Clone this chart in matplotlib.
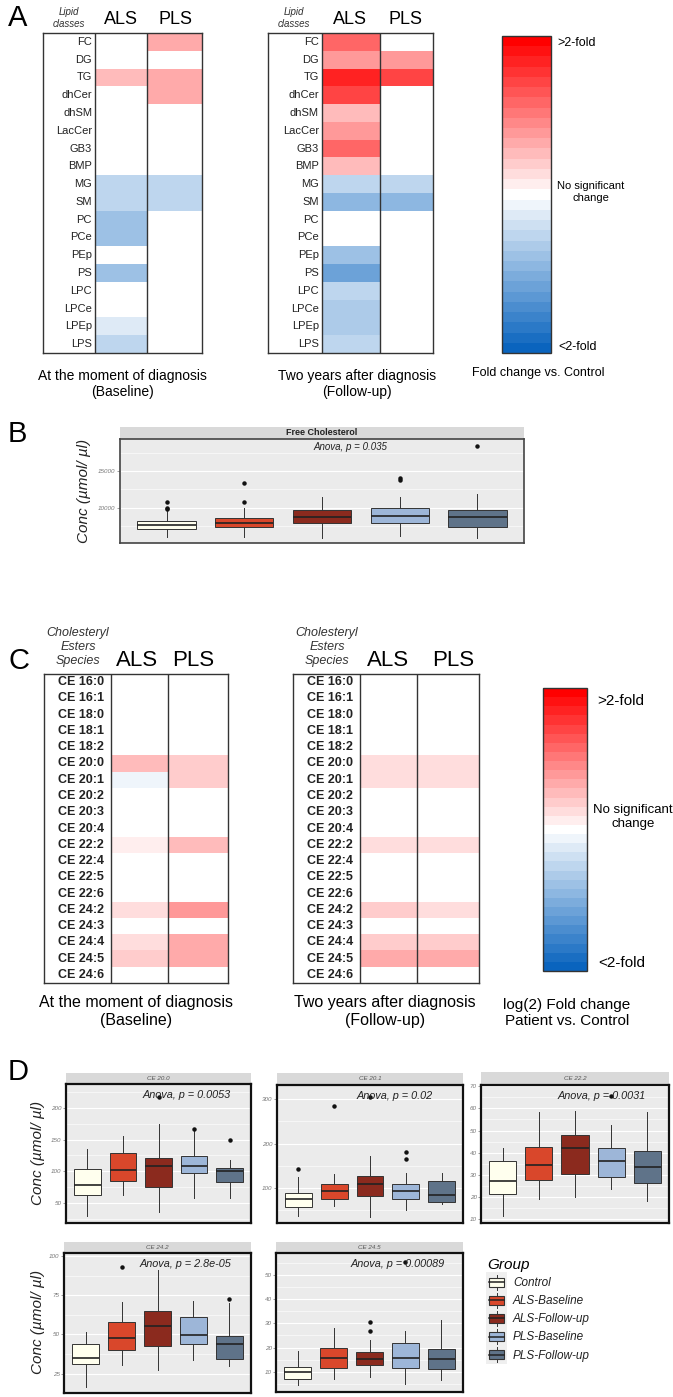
import numpy as np
import matplotlib
matplotlib.use("Agg")
import matplotlib.pyplot as plt
from matplotlib.colors import LinearSegmentedColormap, Normalize
from matplotlib.colorbar import ColorbarBase
from matplotlib.patches import Rectangle, Patch
from matplotlib.lines import Line2D
from matplotlib.legend_handler import HandlerBase
from matplotlib.ticker import AutoMinorLocator

plt.rcParams['font.family'] = ['Liberation Sans', 'DejaVu Sans']

W, H = 673, 1397

# ---- Panel A: lipid classes, log2 fold change vs control ----
lipid_classes = ['FC', 'DG', 'TG', 'dhCer', 'dhSM', 'LacCer', 'GB3', 'BMP', 'MG',
                 'SM', 'PC', 'PCe', 'PEp', 'PS', 'LPC', 'LPCe', 'LPEp', 'LPS']
a_base_als = [0, 0, 0.25, 0, 0, 0, 0, 0, -0.25, -0.25, -0.38, -0.38, 0, -0.38, 0, 0, -0.15, -0.25]
a_base_pls = [0.35, 0, 0.35, 0.35, 0, 0, 0, 0, -0.25, -0.25, 0, 0, 0, 0, 0, 0, 0, 0]
a_fu_als = [0.6, 0.4, 0.85, 0.7, 0.25, 0.4, 0.6, 0.25, -0.25, -0.45, 0, 0, -0.4, -0.6,
            -0.25, -0.35, -0.35, -0.25]
a_fu_pls = [0, 0.4, 0.7, 0, 0, 0, 0, 0, -0.25, -0.45, 0, 0, 0, 0, 0, 0, 0, 0]

# ---- Panel C: cholesteryl ester species ----
ce_species = ['CE 16:0', 'CE 16:1', 'CE 18:0', 'CE 18:1', 'CE 18:2', 'CE 20:0', 'CE 20:1',
              'CE 20:2', 'CE 20:3', 'CE 20:4', 'CE 22:2', 'CE 22:4', 'CE 22:5', 'CE 22:6',
              'CE 24:2', 'CE 24:3', 'CE 24:4', 'CE 24:5', 'CE 24:6']
c_base_als = [0, 0, 0, 0, 0, 0.28, -0.05, 0, 0, 0, 0.06, 0, 0, 0, 0.12, 0, 0.15, 0.2, 0]
c_base_pls = [0, 0, 0, 0, 0, 0.22, 0.22, 0, 0, 0, 0.25, 0, 0, 0, 0.38, 0, 0.32, 0.3, 0]
c_fu_als = [0, 0, 0, 0, 0, 0.14, 0.14, 0, 0, 0, 0.1, 0, 0, 0, 0.18, 0, 0.2, 0.32, 0]
c_fu_pls = [0, 0, 0, 0, 0, 0.12, 0.12, 0, 0, 0, 0.1, 0, 0, 0, 0.12, 0, 0.2, 0.3, 0]

# ---- Boxplots: rows = groups, cols = (lower whisker, q1, median, q3, upper whisker) ----
groups = ['Control', 'ALS-Baseline', 'ALS-Follow-up', 'PLS-Baseline', 'PLS-Follow-up']
group_colors = ['#FFFFEE', '#D9472B', '#8B2A1E', '#9DB6D8', '#5F7389']

fc_box = [[5970, 7080, 7640, 8200, 9600],
          [5970, 7360, 7920, 8610, 10000],
          [5830, 7920, 8750, 9720, 11500],
          [6110, 7920, 8890, 10000, 11530],
          [5830, 7360, 8750, 9720, 11940]]
fc_out = [[9750, 9950, 10800], [10800, 13400], [], [13800, 14050], [18470]]

ce200_box = [[29, 62.6, 78.4, 103.7, 135],
             [63, 85, 101.6, 128, 156],
             [35, 75, 108, 121.6, 175],
             [58, 97.4, 109, 123.7, 163],
             [58, 82.6, 100, 104.7, 117]]
ce200_out = [[], [], [217], [167], [150]]

ce201_box = [[37, 58, 74.4, 88, 124],
             [59, 74, 92, 109, 131.6],
             [35, 82.7, 109, 127.8, 172],
             [50, 75, 94, 109, 133],
             [64, 69, 84, 116, 134.6]]
ce201_out = [[143.6], [285], [304], [166, 180], []]

ce222_box = [[11.5, 21.5, 27.5, 36.5, 42.2],
             [19.3, 27.8, 34.6, 42.5, 58.3],
             [20, 30.5, 42, 48.2, 58.7],
             [23.5, 29, 36.2, 42.2, 52.6],
             [18.5, 26.3, 33.8, 41, 58.3]]
ce222_out = [[], [], [], [65.5], []]

ce242_box = [[16.5, 31, 35, 44.2, 51.7],
             [30.3, 40, 48, 57.7, 71],
             [27, 42.5, 55.3, 65.2, 91],
             [33.5, 43.8, 49.6, 60.9, 71.6],
             [29.7, 34.6, 43.8, 49, 70]]
ce242_out = [[], [93], [], [], [72.4]]

ce245_box = [[4.5, 7.2, 10, 12, 18.7],
             [7.2, 11.7, 15.8, 19.7, 27.9],
             [8, 12.8, 15.5, 18.3, 23],
             [5.2, 11.4, 15.8, 22, 26.8],
             [6.6, 11.1, 15.5, 19.5, 31.4]]
ce245_out = [[], [], [27, 30.7], [55.2], []]

fig = plt.figure(figsize=(W / 100, H / 100), dpi=100)


def px_axes(x0, y0, x1, y1):
    return fig.add_axes([x0 / W, 1 - y1 / H, (x1 - x0) / W, (y1 - y0) / H])


def px_text(x, y, s, **kw):
    kw.setdefault('va', 'center')
    return fig.text(x / W, 1 - y / H, s, **kw)


cmap = LinearSegmentedColormap.from_list('fc', ['#0A64BE', '#FFFFFF', '#FF0000'], N=31)
norm = Normalize(-1, 1)


def heatmap(x0, xl, xm, x1, y0, y1, labels, als, pls, fs, weight, pad):
    ax = px_axes(x0, y0, x1, y1)
    n = len(labels)
    vals = np.column_stack([als, pls])
    ax.pcolormesh([xl, xm, x1], np.arange(n + 1), vals, cmap=cmap, norm=norm)
    ax.set_xlim(x0, x1)
    ax.set_ylim(n, 0)
    for xv in (xl, xm):
        ax.axvline(xv, color='#333333', lw=1)
    for i, lab in enumerate(labels):
        ax.text(xl - pad, i + 0.5, lab, ha='right', va='center', fontsize=fs,
                fontweight=weight, color='#222222')
    ax.set_xticks([])
    ax.set_yticks([])
    for s in ax.spines.values():
        s.set_color('#333333')
        s.set_linewidth(1)
    return ax


def colorbar(x0, y0, x1, y1):
    cax = px_axes(x0, y0, x1, y1)
    cb = ColorbarBase(cax, cmap=cmap, norm=norm, orientation='vertical', ticks=[])
    cb.outline.set_linewidth(1)
    cb.outline.set_edgecolor('#333333')


def boxpanel(x0, y0, x1, y1, strip_h, title, box, out, ylim, ticks, anova, ax_x,
             anova_fs, frame_lw, frame_col, title_kw):
    st = px_axes(x0, y0 - strip_h, x1, y0)
    st.set_facecolor('#D9D9D9')
    st.set_xticks([])
    st.set_yticks([])
    for s in st.spines.values():
        s.set_visible(False)
    st.text(0.5, 0.5, title, ha='center', va='center', transform=st.transAxes, **title_kw)

    ax = px_axes(x0, y0, x1, y1)
    ax.set_facecolor('#EBEBEB')
    stats = []
    for row, fl in zip(box, out):
        stats.append(dict(whislo=row[0], q1=row[1], med=row[2], q3=row[3],
                          whishi=row[4], fliers=fl))
    bp = ax.bxp(stats, positions=np.arange(1, len(stats) + 1), widths=0.75,
                patch_artist=True, showcaps=False,
                boxprops=dict(edgecolor='#333333', linewidth=0.7),
                medianprops=dict(color='#222222', linewidth=1.2),
                whiskerprops=dict(color='#333333', linewidth=0.7),
                flierprops=dict(marker='o', markersize=2.2, markerfacecolor='#111111',
                                markeredgecolor='#111111'))
    for patch, c in zip(bp['boxes'], group_colors):
        patch.set_facecolor(c)
    ax.set_xlim(0.4, 5.6)
    ax.set_ylim(*ylim)
    ax.set_yticks(ticks)
    ax.yaxis.set_minor_locator(AutoMinorLocator(2))
    ax.set_xticks([])
    ax.grid(which='major', axis='y', color='white', lw=0.8)
    ax.grid(which='minor', axis='y', color='white', lw=0.4)
    ax.set_axisbelow(True)
    ax.tick_params(axis='y', which='major', labelsize=4.5, labelcolor='#777777',
                   color='#777777', length=2, width=0.5, pad=1)
    ax.tick_params(axis='y', which='minor', length=0)
    for lab in ax.get_yticklabels():
        lab.set_fontstyle('italic')
    for s in ax.spines.values():
        s.set_color(frame_col)
        s.set_linewidth(frame_lw)
    ax.text(ax_x, 0.92, anova, transform=ax.transAxes, ha='center', va='center',
            fontsize=anova_fs, fontstyle='italic', color='#222222')
    return ax


# ======== Panel A ========
px_text(8, 18, 'A', fontsize=21)
heatmap(43, 95, 147, 202, 33, 353, lipid_classes, a_base_als, a_base_pls, 8, 'normal', 3)
heatmap(268, 322, 380, 433, 33, 353, lipid_classes, a_fu_als, a_fu_pls, 8, 'normal', 3)
for xc, xa, xp in ((69, 121, 175), (294, 350, 406)):
    px_text(xc, 18, 'Lipid\nclasses', ha='center', fontsize=7, fontstyle='italic',
            color='#333333', linespacing=1.15)
    px_text(xa, 20, 'ALS', ha='center', fontsize=13)
    px_text(xp, 20, 'PLS', ha='center', fontsize=13)
px_text(122, 384, 'At the moment of diagnosis\n(Baseline)', ha='center', fontsize=10,
        linespacing=1.25)
px_text(357, 384, 'Two years after diagnosis\n(Follow-up)', ha='center', fontsize=10,
        linespacing=1.25)
colorbar(502, 36, 551, 353)
px_text(557, 43, '>2-fold', fontsize=9)
px_text(591, 192, 'No significant\nchange', ha='center', fontsize=8, linespacing=1.2)
px_text(558, 347, '<2-fold', fontsize=9)
px_text(538, 373, 'Fold change vs. Control', ha='center', fontsize=9)

# ======== Panel B ========
px_text(8, 434, 'B', fontsize=21)
boxpanel(120, 439, 524, 543, 12, 'Free Cholesterol', fc_box, fc_out, (5140, 19440),
         [10000, 15000], 'Anova, p = 0.035', 0.57, 7, 1.2, '#444444',
         dict(fontsize=6.5, fontweight='bold', color='#222222'))
px_text(84, 491, 'Conc (µmol/ µl)', ha='center', rotation=90, fontsize=11,
        fontstyle='italic', color='#222222')

# ======== Panel C ========
px_text(8, 661, 'C', fontsize=21)
heatmap(44, 111, 168, 228, 674, 983, ce_species, c_base_als, c_base_pls, 9, 'bold', 7)
heatmap(293, 360, 417, 479, 674, 983, ce_species, c_fu_als, c_fu_pls, 9, 'bold', 7)
for xc, xa, xp in ((78, 137, 193), (327, 388, 453)):
    px_text(xc, 647, 'Cholesteryl\nEsters\nSpecies', ha='center', fontsize=9,
            fontstyle='italic', color='#333333', linespacing=1.2)
    px_text(xa, 660, 'ALS', ha='center', fontsize=16)
    px_text(xp, 660, 'PLS', ha='center', fontsize=16)
px_text(136, 1012, 'At the moment of diagnosis\n(Baseline)', ha='center', fontsize=11.5,
        linespacing=1.25)
px_text(385, 1012, 'Two years after diagnosis\n(Follow-up)', ha='center', fontsize=11.5,
        linespacing=1.25)
colorbar(543, 688, 587, 971)
px_text(597, 701, '>2-fold', fontsize=11)
px_text(633, 817, 'No significant\nchange', ha='center', fontsize=9.5, linespacing=1.2)
px_text(598, 963, '<2-fold', fontsize=11)
px_text(567, 1013, 'log(2) Fold change\nPatient vs. Control', ha='center', fontsize=11,
        linespacing=1.2)

# ======== Panel D ========
px_text(8, 1072, 'D', fontsize=21)
strip_kw = dict(fontsize=4.5, fontstyle='italic', color='#555555')
boxpanel(66, 1084, 251, 1223, 11, 'CE 20.0', ce200_box, ce200_out, (18, 238),
         [50, 100, 150, 200], 'Anova, p = 0.0053', 0.65, 7.8, 1.6, '#111111', strip_kw)
boxpanel(277, 1085, 463, 1223, 12, 'CE 20.1', ce201_box, ce201_out, (21, 332),
         [100, 200, 300], 'Anova, p = 0.02', 0.63, 7.8, 1.6, '#111111', strip_kw)
boxpanel(481, 1085, 669, 1223, 13, 'CE 22.2', ce222_box, ce222_out, (8.4, 70.5),
         [10, 20, 30, 40, 50, 60, 70], 'Anova, p = 0.0031', 0.64, 7.8, 1.6, '#111111',
         strip_kw)
boxpanel(64, 1253, 251, 1393, 11, 'CE 24.2', ce242_box, ce242_out, (12.6, 102),
         [25, 50, 75, 100], 'Anova, p = 2.8e-05', 0.65, 7.8, 1.6, '#111111', strip_kw)
boxpanel(276, 1253, 463, 1392, 11, 'CE 24.5', ce245_box, ce245_out, (1.7, 59),
         [10, 20, 30, 40, 50], 'Anova, p = 0.00089', 0.65, 7.8, 1.6, '#111111', strip_kw)
for yc in (1153, 1322):
    px_text(38, yc, 'Conc (µmol/ µl)', ha='center', rotation=90, fontsize=11,
            fontstyle='italic', color='#222222')


class BoxKey(HandlerBase):
    def create_artists(self, legend, orig_handle, xdescent, ydescent, width, height,
                       fontsize, trans):
        x0, y0 = -xdescent, -ydescent
        fc = orig_handle.get_facecolor()
        bg = Rectangle((x0 - 1, y0 - 1.5), width + 2, height + 3, facecolor='#EFEFEF',
                       edgecolor='none', transform=trans)
        box = Rectangle((x0 + 0.08 * width, y0 + 0.2 * height), 0.84 * width, 0.6 * height,
                        facecolor=fc, edgecolor='#333333', lw=0.8, transform=trans)
        xm = x0 + width / 2
        med = Line2D([x0 + 0.08 * width, x0 + 0.92 * width], [y0 + height / 2] * 2,
                     color='#222222', lw=1.1, transform=trans)
        w1 = Line2D([xm, xm], [y0, y0 + 0.2 * height], color='#333333', lw=0.7,
                    transform=trans)
        w2 = Line2D([xm, xm], [y0 + 0.8 * height, y0 + height], color='#333333', lw=0.7,
                    transform=trans)
        return [bg, box, med, w1, w2]


handles = [Patch(facecolor=c) for c in group_colors]
leg = fig.legend(handles, groups, handler_map={Patch: BoxKey()}, loc='upper left',
                 bbox_to_anchor=(477 / W, 1 - 1247 / H), frameon=False, title='Group',
                 title_fontproperties={'style': 'italic', 'size': 11},
                 prop={'style': 'italic', 'size': 8.5}, handlelength=1.55,
                 handleheight=1.6, labelspacing=0.25, handletextpad=0.6,
                 alignment='left')
for t in leg.get_texts():
    t.set_color('#222222')

fig.savefig('out.png', dpi=100)
